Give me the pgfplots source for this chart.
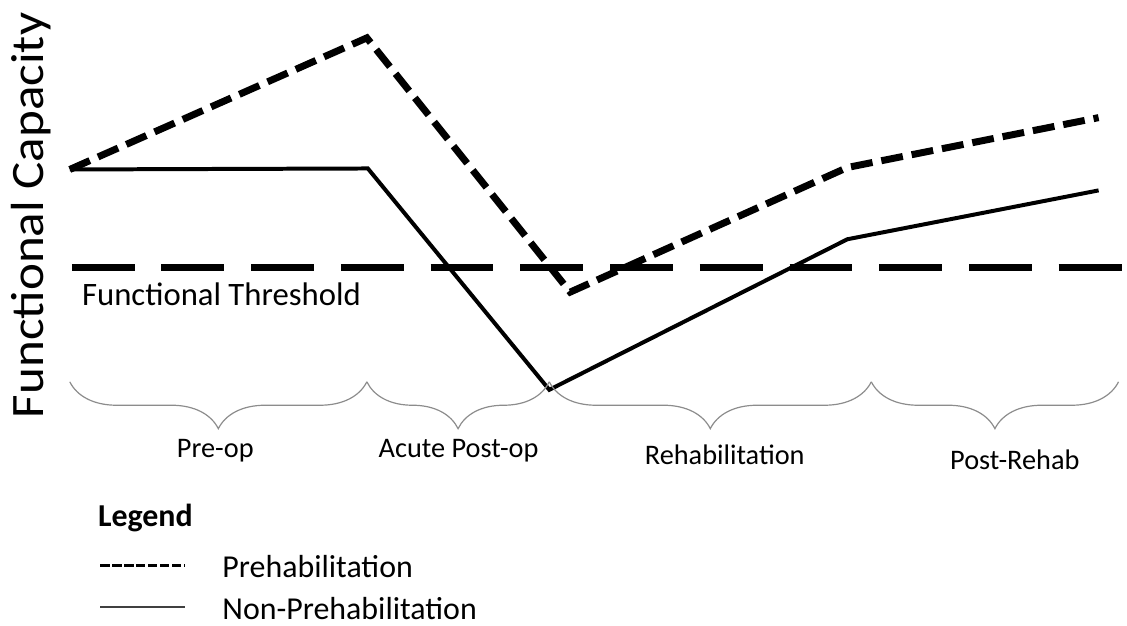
\documentclass[border=0pt]{standalone}
\usepackage{pgfplots}
\pgfplotsset{compat=1.18}
\usepackage{pgfplotstable}
\usepackage{fontspec}
\setmainfont{Carlito}
\usetikzlibrary{decorations.pathreplacing}

\pgfplotstableread{
x y
70 452
368 584
572 329
850 454
1102 504
}\prehab

\pgfplotstableread{
x y
70 452
369 453
551 231
850 382
1102 431
}\nonprehab

\pgfplotstableread{
x y
72 354
1127 354
}\threshold

\begin{document}
\begin{tikzpicture}
\begin{axis}[
  scale only axis, width=563.5pt, height=311pt,
  xmin=0, xmax=1127, ymin=0, ymax=622,
  axis lines=none, ticks=none, clip=false,
  legend style={at={(axis cs:99,31)}, anchor=west, draw=none, fill=none,
    inner sep=0pt, font=\fontsize{16}{19}\selectfont,
    row sep=6pt, column sep=18pt,
    nodes={inner sep=0pt, text height=12pt, text depth=3pt}},
  legend cell align=left,
  legend image code/.code={\draw[#1] (0pt,1.5pt) -- (42.5pt,1.5pt);},
]
\path (rel axis cs:0,0) rectangle (rel axis cs:1,1);
\addplot[forget plot, black, line width=3.5pt, dash pattern=on 31.5pt off 13.5pt] table {\threshold};
\addplot[forget plot, black, line width=3.5pt, dash pattern=on 11pt off 4.5pt] table {\prehab};
\addplot[forget plot, black, line width=2pt] table {\nonprehab};

\addlegendimage{black, line width=1.35pt, dash pattern=on 4.6pt off 1.4pt}
\addlegendentry{Prehabilitation}
\addlegendimage{black!75, line width=0.8pt}
\addlegendentry{Non-Prehabilitation}

% braces
\draw[black!45, line width=0.6pt, decorate, decoration={brace, mirror, amplitude=23.5pt}] (axis cs:70,239) -- (axis cs:368,239);
\draw[black!45, line width=0.6pt, decorate, decoration={brace, mirror, amplitude=23.5pt}] (axis cs:368,239) -- (axis cs:551,239);
\draw[black!45, line width=0.6pt, decorate, decoration={brace, mirror, amplitude=23.5pt}] (axis cs:551,239) -- (axis cs:874,239);
\draw[black!45, line width=0.6pt, decorate, decoration={brace, mirror, amplitude=23.5pt}] (axis cs:874,239) -- (axis cs:1122,239);

\node[font=\fontsize{14.2}{17}\selectfont] at (axis cs:216,170) {Pre-op};
\node[font=\fontsize{14.2}{17}\selectfont] at (axis cs:460,170) {Acute Post-op};
\node[font=\fontsize{14.2}{17}\selectfont] at (axis cs:727,166) {Rehabilitation};
\node[font=\fontsize{14.2}{17}\selectfont] at (axis cs:1018,161) {Post-Rehab};

\node[font=\fontsize{16.4}{19}\selectfont, anchor=west, inner sep=0pt] at (axis cs:82,327) {Functional Threshold};

\node[font=\fontsize{16}{19}\selectfont\bfseries, anchor=west, inner sep=0pt] at (axis cs:98,102) {Legend};

\node[font=\fontsize{23.3}{28}\selectfont, rotate=90, inner sep=0pt] at (axis cs:31,406) {\scalebox{1.10}[1]{Functional Capacity}};
\end{axis}
\end{tikzpicture}
\end{document}
